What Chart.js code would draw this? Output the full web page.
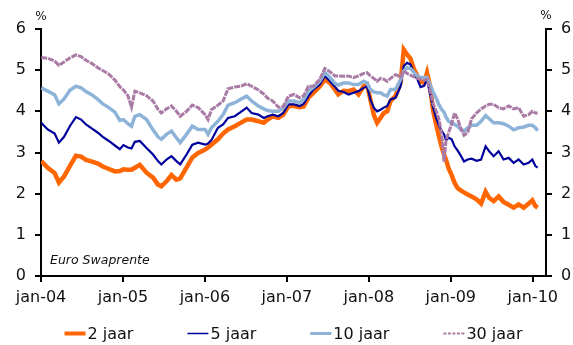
<!DOCTYPE html>
<html>
<head>
<meta charset="utf-8">
<script src="https://cdn.jsdelivr.net/npm/chart.js@4.4.1/dist/chart.umd.min.js"></script>
<style>
  html, body { margin: 0; padding: 0; background: #ffffff; }
  #wrap { width: 573px; height: 345px; }
</style>
</head>
<body>
<div id="wrap"><canvas id="c" width="573" height="345"></canvas></div>
<script>
// Observation dates (shared by all four swap series)
const dates = [
  '2004-01-02','2004-01-31','2004-03-02','2004-03-21','2004-04-13','2004-05-10','2004-06-05','2004-06-28','2004-07-20','2004-08-16','2004-09-11','2004-10-03','2004-10-30','2004-11-26','2004-12-18',
  '2005-01-03','2005-01-23','2005-02-08','2005-02-23','2005-03-17','2005-04-16','2005-05-15','2005-06-06','2005-06-21','2005-07-14','2005-08-05','2005-08-27','2005-09-13','2005-10-11','2005-11-06','2005-12-02',
  '2006-01-02','2006-01-15','2006-01-30','2006-02-28','2006-03-23','2006-04-14','2006-05-14','2006-06-09','2006-07-06','2006-07-28','2006-08-27','2006-09-20','2006-10-07','2006-10-30','2006-11-24','2006-12-16',
  '2007-01-08','2007-02-02','2007-02-27','2007-03-17','2007-04-07','2007-04-29','2007-05-28','2007-06-19','2007-07-12','2007-08-03','2007-08-18','2007-09-11','2007-10-03','2007-10-25','2007-11-16','2007-12-09','2007-12-24',
  '2008-01-08','2008-01-23','2008-02-07','2008-02-22','2008-03-08','2008-03-23','2008-04-07','2008-04-29','2008-05-22','2008-06-05','2008-06-20','2008-07-05','2008-07-19','2008-08-03','2008-08-19','2008-09-04','2008-09-17','2008-10-01','2008-10-13','2008-10-27','2008-11-10','2008-11-22','2008-12-02','2008-12-11','2008-12-22',
  '2009-01-05','2009-01-18','2009-01-31','2009-02-14','2009-03-01','2009-03-17','2009-04-04','2009-04-26','2009-05-16','2009-06-05','2009-06-21','2009-07-11','2009-08-02','2009-08-24','2009-09-16','2009-10-08','2009-10-30','2009-11-22','2009-12-14','2009-12-30',
  '2010-01-13','2010-01-23'
];

// Euro swap rates in %
const swap2 = [
  2.79,2.63,2.50,2.27,2.42,2.68,2.92,2.90,2.82,2.78,2.73,2.66,2.60,2.54,2.55,
  2.59,2.58,2.58,2.63,2.70,2.51,2.39,2.22,2.18,2.30,2.45,2.34,2.37,2.63,2.88,2.99,
  3.07,3.12,3.19,3.32,3.46,3.56,3.64,3.72,3.80,3.80,3.76,3.72,3.80,3.88,3.84,3.92,
  4.13,4.13,4.10,4.12,4.33,4.45,4.61,4.77,4.69,4.53,4.41,4.50,4.49,4.53,4.41,4.61,4.65,
  4.29,3.92,3.72,3.84,3.96,4.00,4.25,4.37,4.69,5.50,5.38,5.28,5.05,4.88,4.72,4.70,4.94,4.60,4.05,3.70,3.38,3.12,2.95,2.82,2.62,
  2.45,2.26,2.14,2.08,2.03,1.98,1.93,1.86,1.76,2.05,1.90,1.82,1.93,1.80,1.73,1.66,1.74,1.66,1.76,1.84,
  1.70,1.66
];
const swap5 = [
  3.72,3.56,3.46,3.24,3.38,3.65,3.86,3.80,3.68,3.58,3.48,3.38,3.28,3.17,3.08,
  3.18,3.12,3.10,3.26,3.28,3.11,2.95,2.79,2.71,2.83,2.91,2.79,2.71,2.95,3.19,3.24,
  3.19,3.22,3.30,3.60,3.68,3.84,3.88,3.98,4.09,3.96,3.92,3.84,3.88,3.92,3.88,3.96,
  4.17,4.17,4.13,4.18,4.37,4.53,4.65,4.86,4.73,4.60,4.50,4.47,4.41,4.45,4.49,4.57,4.61,
  4.29,4.09,4.00,4.04,4.09,4.13,4.29,4.33,4.61,5.10,5.18,5.14,4.95,4.80,4.59,4.62,4.77,4.40,4.12,3.85,3.64,3.52,3.44,3.30,3.36,
  3.32,3.15,3.05,2.93,2.78,2.83,2.85,2.80,2.83,3.15,3.03,2.91,3.03,2.83,2.87,2.75,2.83,2.71,2.75,2.83,
  2.67,2.63
];
const swap10 = [
  4.57,4.49,4.40,4.18,4.30,4.52,4.61,4.57,4.48,4.40,4.29,4.18,4.09,3.98,3.78,
  3.80,3.70,3.64,3.88,3.92,3.80,3.55,3.38,3.32,3.44,3.52,3.36,3.24,3.44,3.64,3.56,
  3.56,3.44,3.60,3.76,3.92,4.15,4.21,4.29,4.37,4.25,4.13,4.06,4.02,4.00,4.00,4.08,
  4.25,4.25,4.21,4.29,4.49,4.58,4.73,4.94,4.82,4.68,4.64,4.69,4.69,4.65,4.65,4.73,4.69,
  4.53,4.47,4.45,4.45,4.40,4.37,4.53,4.53,4.77,4.98,5.06,5.04,4.96,4.86,4.82,4.82,4.82,4.65,4.48,4.33,4.15,4.04,3.98,3.86,3.76,
  3.72,3.68,3.64,3.56,3.52,3.60,3.66,3.66,3.76,3.90,3.82,3.72,3.72,3.70,3.64,3.55,3.60,3.62,3.66,3.66,
  3.60,3.53
];
const swap30 = [
  5.31,5.29,5.22,5.12,5.20,5.30,5.37,5.33,5.24,5.16,5.06,4.99,4.90,4.76,4.60,
  4.52,4.38,4.10,4.49,4.45,4.38,4.25,4.05,3.96,4.06,4.13,4.00,3.88,4.00,4.15,4.09,
  3.92,3.80,4.04,4.15,4.25,4.55,4.59,4.61,4.67,4.61,4.52,4.42,4.32,4.25,4.10,4.12,
  4.37,4.41,4.33,4.38,4.61,4.61,4.78,5.04,4.96,4.86,4.86,4.85,4.86,4.82,4.86,4.92,4.94,
  4.86,4.80,4.73,4.80,4.78,4.73,4.80,4.89,4.84,4.98,4.92,4.88,4.84,4.80,4.78,4.75,4.78,4.50,4.20,4.02,3.80,3.40,2.78,3.30,3.48,
  3.70,3.96,3.82,3.60,3.42,3.48,3.82,3.96,4.06,4.13,4.17,4.17,4.09,4.06,4.13,4.06,4.09,3.88,3.92,4.00,
  3.96,3.96
];

const seriesLabels = ['2 jaar', '5 jaar', '10 jaar', '30 jaar'];
const yearTicks = [2004, 2005, 2006, 2007, 2008, 2009, 2010];
const rateTicks = [0, 1, 2, 3, 4, 5, 6];
const unitLabel = '%';
const sourceNote = 'Euro Swaprente';

const FONT = '"DejaVu Sans", Verdana, sans-serif';
const INK = '#111111';

// date string -> fractional year, so the x axis can be a plain linear scale
function toYear(s) {
  const [y, m, d] = s.split('-').map(Number);
  const start = Date.UTC(y, 0, 1), end = Date.UTC(y + 1, 0, 1);
  return y + (Date.UTC(y, m - 1, d) - start) / (end - start);
}
const xs = dates.map(toYear);
const toPoints = vals => vals.map((v, i) => ({ x: xs[i], y: v }));

const styles = [
  { color: '#FF6600', width: 4.5, dash: [],     legendDash: [],       legendWidth: 4,   order: 4 },
  { color: '#00009C', width: 2.2, dash: [],     legendDash: [],       legendWidth: 1.5, order: 3 },
  { color: '#8DB3D9', width: 3.5, dash: [],     legendDash: [],       legendWidth: 3,   order: 2 },
  { color: '#A97BA5', width: 3,   dash: [6, 1], legendDash: [3, 1.5], legendWidth: 2,   order: 1 }
];
const seriesValues = [swap2, swap5, swap10, swap30];

const datasets = seriesValues.map((vals, i) => ({
  label: seriesLabels[i],
  data: toPoints(vals),
  borderColor: styles[i].color,
  backgroundColor: styles[i].color,
  borderWidth: styles[i].width,
  borderDash: styles[i].dash,
  order: styles[i].order,
  pointRadius: 0,
  tension: 0,
  fill: false
}));

// Legend row, unit markers and source note
const decorations = {
  id: 'decorations',
  afterDraw(chart) {
    const ctx = chart.ctx, area = chart.chartArea;
    ctx.save();

    // "%" above both value axes
    ctx.font = '12px ' + FONT;
    ctx.fillStyle = INK;
    ctx.textAlign = 'center';
    ctx.textBaseline = 'alphabetic';
    ctx.fillText(unitLabel, area.left, 20);
    ctx.fillText(unitLabel, area.right, 19);

    // source note inside the plot
    ctx.font = 'italic 12.5px ' + FONT;
    ctx.textAlign = 'left';
    ctx.fillText(sourceNote, area.left + 9, 264);

    // legend
    ctx.font = '16px ' + FONT;
    const sample = 21, textGap = 2, itemGap = 54;
    const items = chart.data.datasets.map((ds, i) => ({
      ds, st: styles[i],
      w: sample + textGap + ctx.measureText(ds.label).width
    }));
    const total = items.reduce((a, it) => a + it.w, 0) + itemGap * (items.length - 1);
    let x = (area.left + area.right) / 2 - total / 2;
    const lineY = 333.5, textY = 339;
    items.forEach(it => {
      ctx.beginPath();
      ctx.strokeStyle = it.ds.borderColor;
      ctx.lineWidth = it.st.legendWidth;
      ctx.setLineDash(it.st.legendDash);
      ctx.moveTo(x, lineY);
      ctx.lineTo(x + sample, lineY);
      ctx.stroke();
      ctx.setLineDash([]);
      ctx.fillStyle = INK;
      ctx.fillText(it.ds.label, x + sample + textGap, textY);
      x += it.w + itemGap;
    });
    ctx.restore();
  }
};

const valueAxis = (position, width) => ({
  type: 'linear',
  position,
  min: 0,
  max: 6,
  afterBuildTicks: s => { s.ticks = rateTicks.map(v => ({ value: v })); },
  afterFit: s => { s.width = width; },
  ticks: { color: INK, font: { family: FONT, size: 16 }, padding: 9 },
  grid: { drawOnChartArea: false, drawTicks: true, tickLength: 6, color: '#000', lineWidth: 2 },
  border: { display: true, color: '#000', width: 2 }
});

new Chart(document.getElementById('c'), {
  type: 'line',
  data: { datasets },
  options: {
    responsive: false,
    animation: false,
    devicePixelRatio: 1,
    layout: { padding: { top: 29, left: 0, right: 0, bottom: 0 } },
    plugins: {
      legend: { display: false },
      tooltip: { enabled: false }
    },
    scales: {
      x: {
        type: 'linear',
        min: 2004,
        max: 2010.162,
        afterBuildTicks: s => { s.ticks = yearTicks.map(v => ({ value: v })); },
        afterFit: s => { s.height = 69; },
        ticks: {
          color: INK,
          font: { family: FONT, size: 16 },
          padding: 6,
          maxRotation: 0,
          autoSkip: false,
          callback: v => 'jan-' + String(v).slice(2)
        },
        grid: { drawOnChartArea: false, drawTicks: true, tickLength: 6, color: '#000', lineWidth: 2 },
        border: { display: true, color: '#000', width: 2 }
      },
      y: valueAxis('left', 41),
      y2: valueAxis('right', 27)
    }
  },
  plugins: [decorations]
});
</script>
</body>
</html>
